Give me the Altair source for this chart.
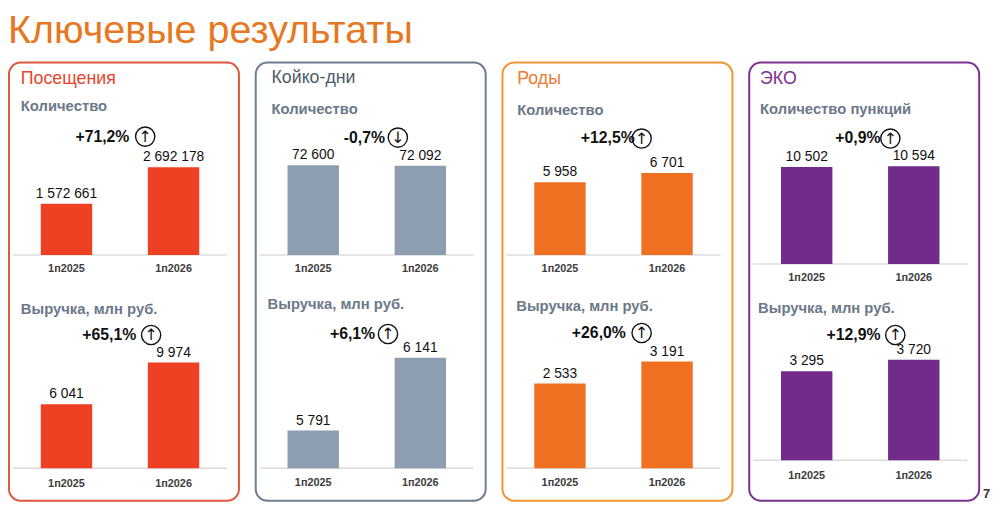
import altair as alt
import pandas as pd

FONT = "Liberation Sans"

# ---------------- data ----------------
periods = ["1п2025", "1п2026"]
panel_names = ["Посещения", "Койко-дни", "Роды", "ЭКО"]
count_titles = ["Количество", "Количество", "Количество", "Количество пункций"]
revenue_title = "Выручка, млн руб."

visits_count = [1572661, 2692178]
beddays_count = [72600, 72092]
births_count = [5958, 6701]
ivf_count = [10502, 10594]

visits_revenue = [6041, 9974]
beddays_revenue = [5791, 6141]
births_revenue = [2533, 3191]
ivf_revenue = [3295, 3720]

count_change = ["+71,2%", "-0,7%", "+12,5%", "+0,9%"]
count_arrow = ["↑", "↓", "↑", "↑"]
revenue_change = ["+65,1%", "+6,1%", "+26,0%", "+12,9%"]
revenue_arrow = ["↑", "↑", "↑", "↑"]
page_number = "7"
main_title = "Ключевые результаты"

count_values = [visits_count, beddays_count, births_count, ivf_count]
revenue_values = [visits_revenue, beddays_revenue, births_revenue, ivf_revenue]

# ---------------- styles / layout ----------------
bar_colors = ["#EE4123", "#8D9EB0", "#F07022", "#722B8A"]
border_colors = ["#E0563E", "#6D7C8F", "#F2962E", "#7A3390"]
title_colors = ["#E8452C", "#505A66", "#EF7B30", "#7B2E8E"]
SUB_COLOR = "#6B7888"
CAT_COLOR = "#3D3D3D"
PANEL_W, PANEL_H = 233, 444

# per panel layout (local pixel coordinates inside each panel)
layouts = [
    dict(title=(12, 17), sub1=(12, 44), pct1=(122, 75), circ1=(138, 75),
         base1=195, top1=106, cat1=209,
         sub2=(12, 250), pct2=(129, 276), circ2=(144, 276),
         base2=411, top2=304, cat2=427, rmin=0),
    dict(title=(16, 16), sub1=(16, 47), pct1=(131, 76), circ1=(144, 76),
         base1=195, top1=104, cat1=209,
         sub2=(12, 245), pct2=(121, 275), circ2=(134, 275),
         base2=411, top2=299, cat2=426, rmin=5610),
    dict(title=(15, 17), sub1=(15, 48), pct1=(134, 77), circ1=(141, 77),
         base1=195, top1=112, cat1=209,
         sub2=(14, 247), pct2=(125, 274), circ2=(141, 274),
         base2=411, top2=303, cat2=426, rmin=0),
    dict(title=(11, 17), sub1=(11, 47), pct1=(133, 77), circ1=(143, 77),
         base1=204, top1=105, cat1=218,
         sub2=(9, 249), pct2=(133, 276), circ2=(148, 276),
         base2=403, top2=301, cat2=419, rmin=0),
]

xscale = alt.Scale(domain=periods, range=[4, 221], paddingInner=0.52, paddingOuter=0.26)


def fmt(v):
    return f"{v:,}".replace(",", " ")


def bar_block(values, color, base_px, top_px, cat_px, dmin):
    df = pd.DataFrame({"period": periods, "value": values,
                       "label": [fmt(v) for v in values]})
    dmax = max(values)
    ysc = alt.Scale(domain=[dmin, dmax], range=[base_px, top_px], nice=False, zero=False)
    x = alt.X("period:N", axis=None, sort=periods, scale=xscale)
    y = alt.Y("value:Q", axis=None, scale=ysc)
    base = alt.Chart(df)
    rule = alt.Chart(pd.DataFrame({"value": [dmin]})).mark_rule(
        color="#DCDCDC", strokeWidth=1.5).encode(
        x=alt.value(4), x2=alt.value(221), y=alt.Y("value:Q", axis=None, scale=ysc))
    bars = base.mark_bar(color=color).encode(x=x, y=y, y2=alt.datum(dmin))
    labels = base.mark_text(font=FONT, fontSize=14, color="#111111",
                            baseline="bottom", dy=-3).encode(x=x, y=y, text="label:N")
    cats = base.mark_text(font=FONT, fontSize=11, fontWeight="bold", color=CAT_COLOR,
                          baseline="middle").encode(x=x, y=alt.value(cat_px), text="period:N")
    return alt.layer(rule, bars, labels, cats)


def text_at(txt, pos, size, color, bold=False, align="left"):
    return alt.Chart(pd.DataFrame({"t": [txt]})).mark_text(
        font=FONT, fontSize=size, color=color, align=align, baseline="middle",
        fontWeight="bold" if bold else "normal").encode(
        x=alt.value(pos[0]), y=alt.value(pos[1]), text="t:N")


def circle_arrow(arrow, pos):
    circ = alt.Chart(pd.DataFrame({"t": [arrow]})).mark_point(
        shape="circle", filled=False, size=380, stroke="#111111", strokeWidth=1.4, opacity=1).encode(
        x=alt.value(pos[0]), y=alt.value(pos[1]))
    arr = alt.Chart(pd.DataFrame({"t": [arrow]})).mark_text(
        font="DejaVu Sans", fontSize=16, color="#111111", align="center", baseline="middle").encode(
        x=alt.value(pos[0]), y=alt.value(pos[1] + 0.5), text="t:N")
    return [circ, arr]


panels = []
for i in range(4):
    L = layouts[i]
    layers = [
        text_at(panel_names[i], L["title"], 18, title_colors[i]),
        text_at(count_titles[i], L["sub1"], 15, SUB_COLOR, bold=True),
        text_at(count_change[i], L["pct1"], 16, "#111111", bold=True, align="right"),
        *circle_arrow(count_arrow[i], L["circ1"]),
        bar_block(count_values[i], bar_colors[i], L["base1"], L["top1"], L["cat1"], 0),
        text_at(revenue_title, L["sub2"], 15, SUB_COLOR, bold=True),
        text_at(revenue_change[i], L["pct2"], 16, "#111111", bold=True, align="right"),
        *circle_arrow(revenue_arrow[i], L["circ2"]),
        bar_block(revenue_values[i], bar_colors[i], L["base2"], L["top2"], L["cat2"], L["rmin"]),
    ]
    if i == 3:
        layers.append(text_at(page_number, (237, 437), 13, "#333333", bold=True))
    panel = alt.layer(*layers).resolve_scale(y="independent").properties(
        width=PANEL_W, height=PANEL_H,
        view=alt.ViewBackground(stroke=border_colors[i], strokeWidth=2, cornerRadius=12, fill="white"))
    panels.append(panel)

chart = alt.hconcat(*panels, spacing=15).properties(
    title=alt.TitleParams(main_title, anchor="start", fontSize=40, font=FONT,
                          color="#E87722", fontWeight="normal", offset=4, dy=-7),
    padding={"left": 0, "top": 0, "right": 0, "bottom": 0},
).configure(background="white")

chart.save("out.html", embed_options={"renderer": "svg", "actions": False})
